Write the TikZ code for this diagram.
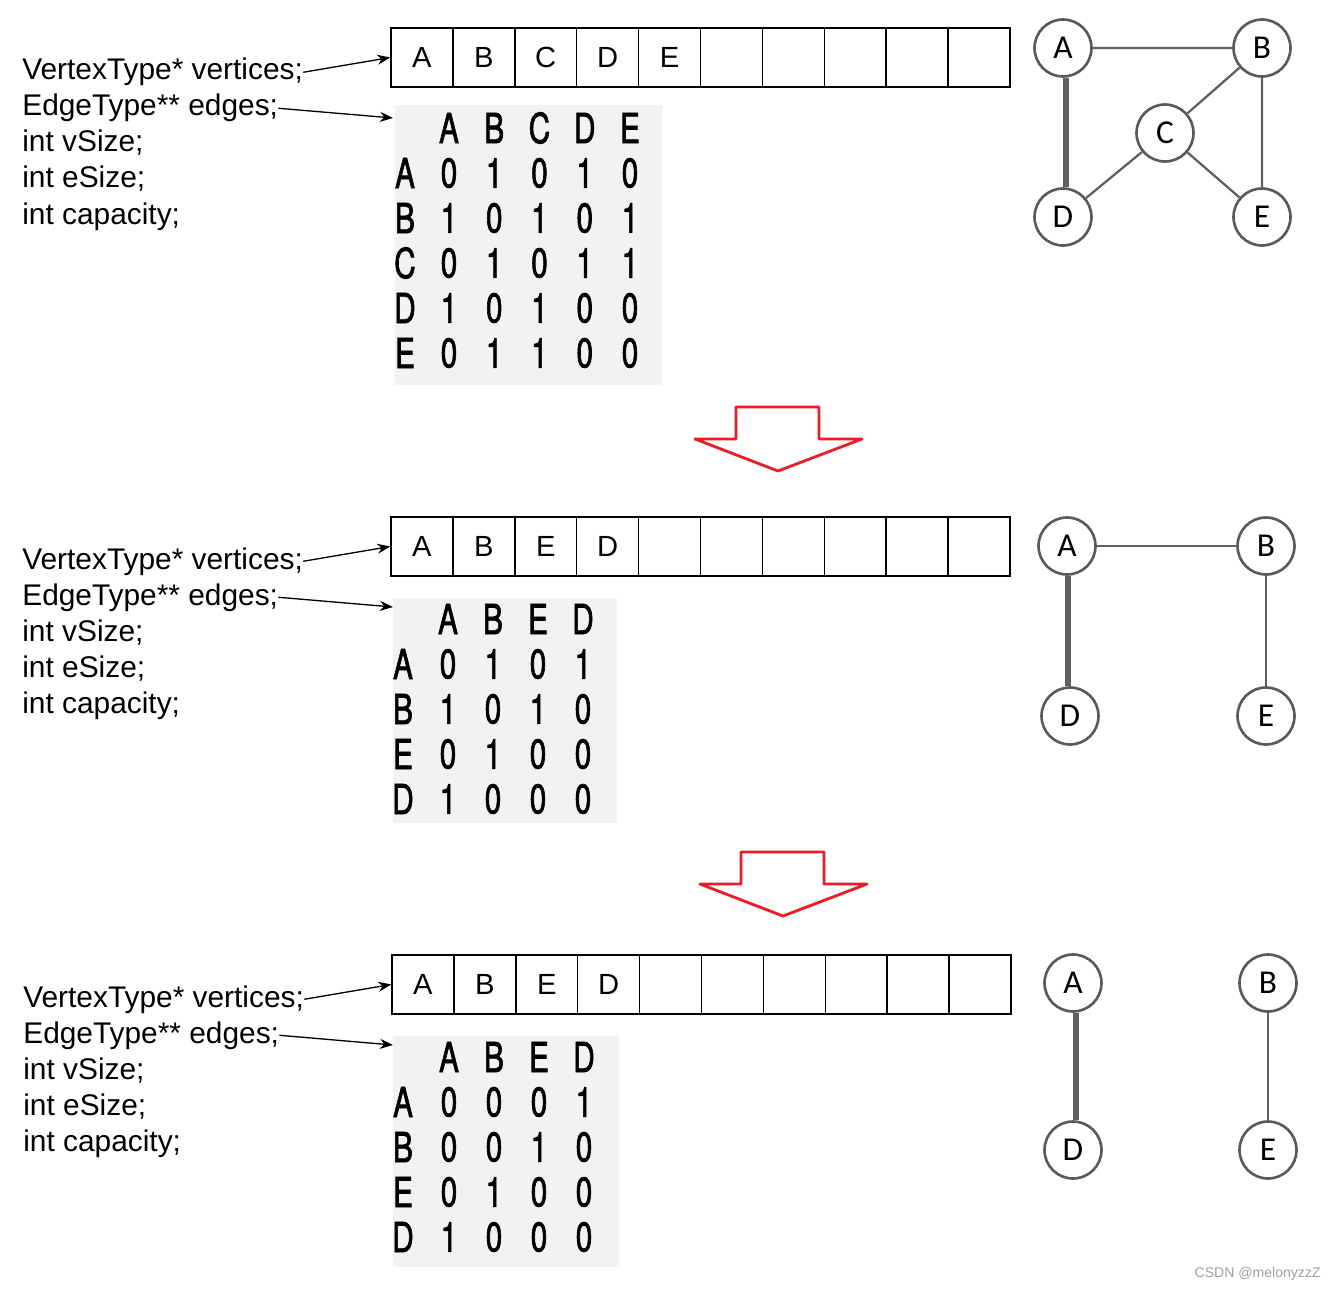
\documentclass[tikz,border=0pt]{standalone}
\usepackage{fontspec}
\setmainfont{Liberation Sans}
\newfontfamily\matfont{TeX Gyre Heros}[FakeBold=2]
\newfontfamily\gfont{Carlito}
\usepackage{graphicx}
\usepackage{tikz}
\usetikzlibrary{arrows.meta}
\definecolor{matgray}{HTML}{F2F2F2}
\definecolor{nodegray}{HTML}{5A5A5A}
\definecolor{edgegray}{HTML}{606060}
\definecolor{arrowred}{HTML}{ED1C24}
\definecolor{wmgray}{HTML}{A0A0A0}
\newcommand{\narrowtxt}[1]{\scalebox{0.72}[1]{#1}}
\tikzset{
    declline/.style={anchor=base west, inner sep=0pt, font=\fontsize{17}{19}\selectfont},
    arrcell/.style={rectangle, draw=black, line width=0.85pt, minimum width=1.238cm,
        minimum height=1.18cm, inner sep=0pt, font=\fontsize{16.6}{19}\selectfont},
    matentry/.style={inner sep=0pt, font=\matfont\fontsize{23.5}{26}\selectfont},
    ptrarrow/.style={-{Stealth[length=0.26cm, width=0.2cm]}, line width=0.75pt},
    gnode/.style={circle, draw=nodegray, line width=1.5pt, minimum size=1.14cm,
        inner sep=0pt, fill=white, font=\gfont\fontsize{19}{20}\selectfont},
    gedge/.style={draw=edgegray, line width=1.3pt},
    gthick/.style={draw=edgegray, line width=3.2pt},
    stepdown/.style={draw=arrowred, line width=1.6pt, line join=round},
}

\begin{document}
\begin{tikzpicture}[x=0.02cm, y=-0.02cm]
    \useasboundingbox (0,0) rectangle (1336,1291);

    % panel 1: A B C D E
    \node[declline] (v1) at (22,80) {VertexType* vertices;};
    \node[declline] (e1) at (22,116) {EdgeType** edges;};
    \node[declline] (vs1) at (22,152) {int vSize;};
    \node[declline] (es1) at (22,188) {int eSize;};
    \node[declline] (cap1) at (22,224) {int capacity;};
    \foreach \lab [count=\i] in {A,B,C,D,E,{},{},{},{},{}}
        \node[arrcell] (a1-\i) at ({391+61.9*(\i-0.5)},57.5) {\lab};
    \fill[matgray] (395,105) rectangle (662,385);
    \coordinate (m1in) at (393,118);
    \foreach \lab [count=\c] in {A,B,C,D,E}
        \node[matentry] (m1-0-\c) at ({449+45.25*(\c-1)},128) {\narrowtxt{\lab}};
    \foreach \lab/\vals [count=\r] in {A/{0,1,0,1,0},B/{1,0,1,0,1},C/{0,1,0,1,1},D/{1,0,1,0,0},E/{0,1,1,0,0}} {
        \node[matentry] (m1-\r-0) at (405,{128+45*\r}) {\narrowtxt{\lab}};
        \foreach \v [count=\c] in \vals
            \node[matentry] (m1-\r-\c) at ({449+45.25*(\c-1)},{128+45*\r}) {\narrowtxt{\v}};
    }
    \draw[ptrarrow] (v1.east) -- (a1-1.west);
    \draw[ptrarrow] (e1.east) -- (m1in);
    \node[gnode] (g1A) at (1063,48) {A};
    \node[gnode] (g1B) at (1262,48) {B};
    \node[gnode] (g1C) at (1165,133) {C};
    \node[gnode] (g1D) at (1063,217) {D};
    \node[gnode] (g1E) at (1262,217) {E};
    \draw[gedge] (g1A) -- (g1B) (g1B) -- (g1C) (g1B) -- (g1E) (g1C) -- (g1D) (g1C) -- (g1E);
    \draw[gthick] ([xshift=0.06cm]g1A.south) -- ([xshift=0.06cm]g1D.north);

    % red arrows between the panels
    \foreach \dx/\dy in {0/0,5/445}
        \draw[stepdown, shift={(\dx,\dy)}] (736,407) -- (819,407) -- (819,439) -- (862,439)
            -- (778,471) -- (695,439) -- (736,439) -- cycle;

    % panel 2: C removed
    \node[declline] (v2) at (22,569) {VertexType* vertices;};
    \node[declline] (e2) at (22,605) {EdgeType** edges;};
    \node[declline] (vs2) at (22,641) {int vSize;};
    \node[declline] (es2) at (22,677) {int eSize;};
    \node[declline] (cap2) at (22,713) {int capacity;};
    \foreach \lab [count=\i] in {A,B,E,D,{},{},{},{},{},{}}
        \node[arrcell] (a2-\i) at ({391+61.9*(\i-0.5)},546.5) {\lab};
    \fill[matgray] (393,598) rectangle (617,823);
    \coordinate (m2in) at (393,607);
    \foreach \lab [count=\c] in {A,B,E,D}
        \node[matentry] (m2-0-\c) at ({448+45*(\c-1)},619) {\narrowtxt{\lab}};
    \foreach \lab/\vals [count=\r] in {A/{0,1,0,1},B/{1,0,1,0},E/{0,1,0,0},D/{1,0,0,0}} {
        \node[matentry] (m2-\r-0) at (403,{619+45*\r}) {\narrowtxt{\lab}};
        \foreach \v [count=\c] in \vals
            \node[matentry] (m2-\r-\c) at ({448+45*(\c-1)},{619+45*\r}) {\narrowtxt{\v}};
    }
    \draw[ptrarrow] (v2.east) -- (a2-1.west);
    \draw[ptrarrow] (e2.east) -- (m2in);
    \node[gnode] (g2A) at (1067,546) {A};
    \node[gnode] (g2B) at (1266,546) {B};
    \node[gnode] (g2D) at (1070,716) {D};
    \node[gnode] (g2E) at (1266,716) {E};
    \draw[gedge] (g2A) -- (g2B) (g2B) -- (g2E);
    \draw[gthick] ([xshift=0.02cm]g2A.south) -- ([xshift=0.02cm]g2A.south |- g2D.north);

    % panel 3: edge A-B removed
    \node[declline] (v3) at (23,1007) {VertexType* vertices;};
    \node[declline] (e3) at (23,1043) {EdgeType** edges;};
    \node[declline] (vs3) at (23,1079) {int vSize;};
    \node[declline] (es3) at (23,1115) {int eSize;};
    \node[declline] (cap3) at (23,1151) {int capacity;};
    \foreach \lab [count=\i] in {A,B,E,D,{},{},{},{},{},{}}
        \node[arrcell] (a3-\i) at ({392+61.9*(\i-0.5)},984.5) {\lab};
    \fill[matgray] (393,1036) rectangle (619,1267);
    \coordinate (m3in) at (393,1045);
    \foreach \lab [count=\c] in {A,B,E,D}
        \node[matentry] (m3-0-\c) at ({449+45*(\c-1)},1057) {\narrowtxt{\lab}};
    \foreach \lab/\vals [count=\r] in {A/{0,0,0,1},B/{0,0,1,0},E/{0,1,0,0},D/{1,0,0,0}} {
        \node[matentry] (m3-\r-0) at (403,{1057+45*\r}) {\narrowtxt{\lab}};
        \foreach \v [count=\c] in \vals
            \node[matentry] (m3-\r-\c) at ({449+45*(\c-1)},{1057+45*\r}) {\narrowtxt{\v}};
    }
    \draw[ptrarrow] (v3.east) -- (a3-1.west);
    \draw[ptrarrow] (e3.east) -- (m3in);
    \node[gnode] (g3A) at (1073,983) {A};
    \node[gnode] (g3B) at (1268,983) {B};
    \node[gnode] (g3D) at (1073,1150) {D};
    \node[gnode] (g3E) at (1268,1150) {E};
    \draw[gedge] (g3B) -- (g3E);
    \draw[gthick] ([xshift=0.06cm]g3A.south) -- ([xshift=0.06cm]g3D.north);

    \node[anchor=east, inner sep=0pt, text=wmgray, font=\fontsize{8}{9}\selectfont] (wm) at (1321,1274) {CSDN @melonyzzZ};
\end{tikzpicture}
\end{document}
